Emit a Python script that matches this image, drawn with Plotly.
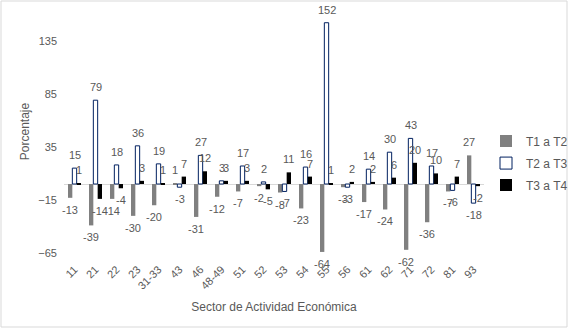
import plotly.graph_objects as go

categories = ["11", "21", "22", "23", "31-33", "43", "46", "48-49", "51", "52",
              "53", "54", "55", "56", "61", "62", "71", "72", "81", "93"]
t1_t2 = [-13, -39, -14, -30, -20, 1, -31, -12, -7, -2, -8, -23, -64, -3, -17, -24, -62, -36, -7, 27]
t2_t3 = [15, 79, 18, 36, 19, -3, 27, 3, 17, 2, -7, 16, 152, -3, 14, 30, 43, 17, -6, -18]
t3_t4 = [1, -14, -4, 3, 1, 7, 12, 3, 3, -5, 11, 7, 1, 2, 2, 6, 20, 10, 7, -2]
series_names = ["T1 a T2", "T2 a T3", "T3 a T4"]
y_ticks = [-65, -15, 35, 85, 135]

FONT = "Liberation Sans"
TXT = "#595959"

L, R, T, B = 64, 84, 10, 76
pw = 568 - L - R
ph = 329 - T - B
BARGAP = 0.38
bar_px = pw / len(categories) * (1 - BARGAP) / 3

markers = [dict(color="#808080", line=dict(width=0)),
           dict(color="white", line=dict(color="#002060", width=1)),
           dict(color="black", line=dict(width=0))]

fig = go.Figure()
annotations = []
for i, (name, vals, mk) in enumerate(zip(series_names, [t1_t2, t2_t3, t3_t4], markers)):
    fig.add_trace(go.Bar(name=name, x=categories, y=vals, marker=mk,
                         legendgroup=name, hoverinfo="x+y"))
    for j, v in enumerate(vals):
        pos = v >= 0
        # x given as the category index (category axes accept positions)
        annotations.append(dict(x=j, y=v, text=str(v), showarrow=False,
                                xref="x", yref="y",
                                xshift=(i - 1) * bar_px,
                                yshift=5 if pos else -4,
                                yanchor="bottom" if pos else "top",
                                font=dict(family=FONT, size=11, color=TXT)))

fig.update_layout(
    width=568, height=329,
    margin=dict(l=L, r=R, t=T, b=B, autoexpand=False),
    paper_bgcolor="white", plot_bgcolor="white",
    barmode="group", bargap=BARGAP, bargroupgap=0,
    font=dict(family=FONT, size=11, color=TXT),
    showlegend=True,
    legend=dict(x=(486 - L) / pw, y=0.37, xanchor="left", yanchor="middle",
                font=dict(family=FONT, size=12, color=TXT),
                itemwidth=30, tracegroupgap=3, bgcolor="rgba(0,0,0,0)"),
    xaxis=dict(type="category", categoryorder="array", categoryarray=categories,
               range=[-0.5, len(categories) - 0.5],
               tickangle=-45, showline=False, showgrid=False,
               automargin=False, ticks="", ticklabelstandoff=7,
               tickfont=dict(family=FONT, size=11, color=TXT),
               title=dict(text="Sector de Actividad Económica", standoff=11,
                          font=dict(family=FONT, size=12, color=TXT))),
    yaxis=dict(range=[-65, 164], tickvals=y_ticks, showgrid=False, showline=False,
               automargin=False, zeroline=True, zerolinecolor="#d9d9d9", zerolinewidth=1,
               ticks="", ticklabelstandoff=6,
               tickfont=dict(family=FONT, size=11, color=TXT),
               title=dict(text="Porcentaje", standoff=6,
                          font=dict(family=FONT, size=12, color=TXT))),
    annotations=annotations,
    shapes=[dict(type="rect", xref="paper", yref="paper",
                 x0=(1 - L) / pw, x1=(567 - L) / pw,
                 y0=-(327 - T - ph) / ph, y1=(ph + T - 1) / ph,
                 line=dict(color="#d9d9d9", width=1), fillcolor="rgba(0,0,0,0)")],
)

fig.write_html("out.html", config={"displayModeBar": False},
               post_script="document.body.style.margin='0';document.body.style.overflow='hidden';")
